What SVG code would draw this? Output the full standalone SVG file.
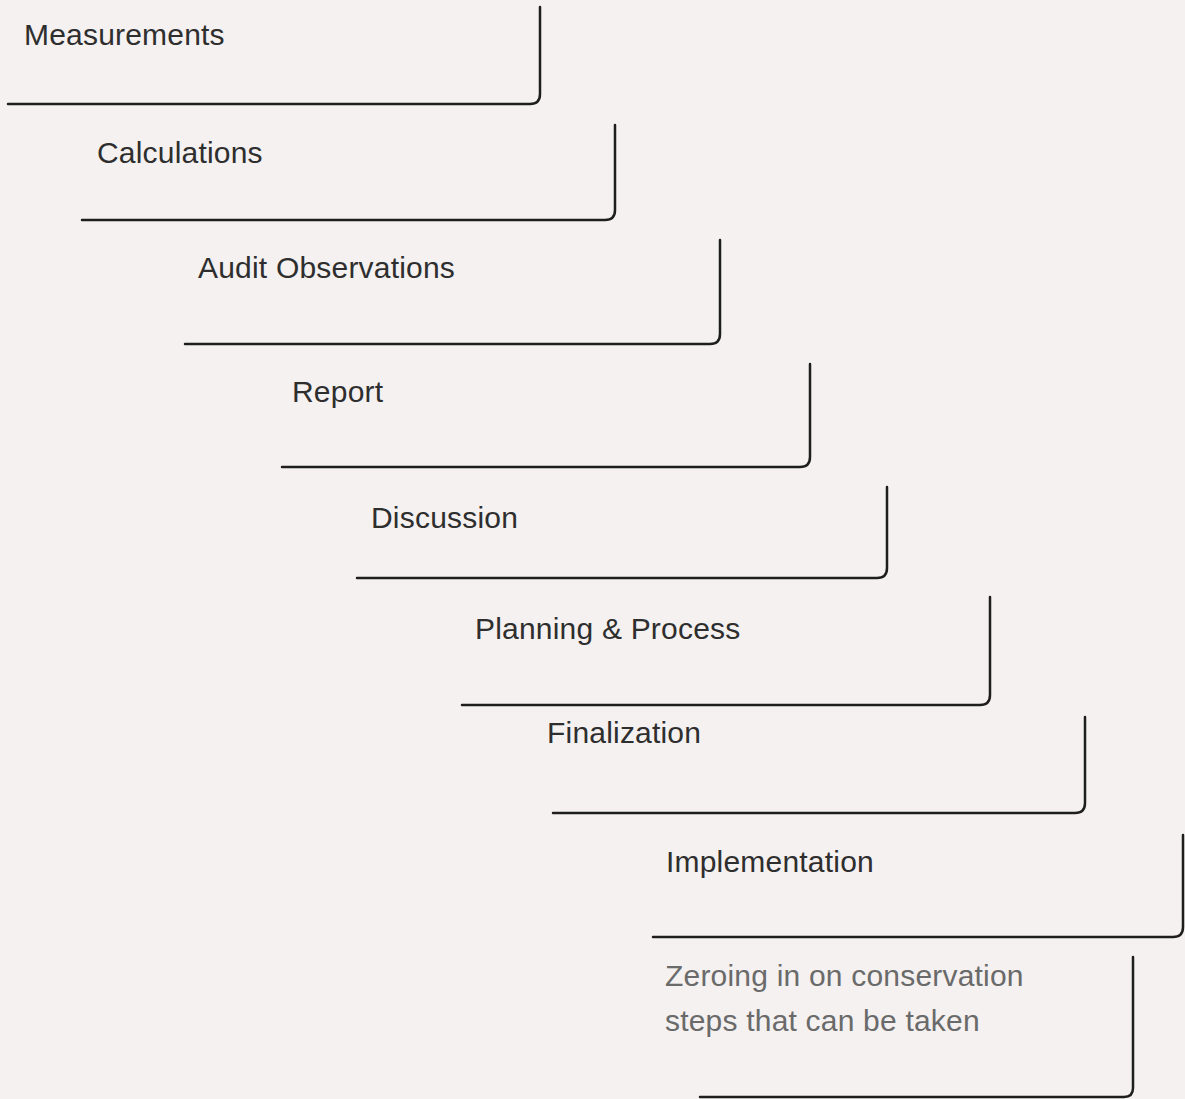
<svg xmlns="http://www.w3.org/2000/svg" width="1185" height="1099" viewBox="0 0 1185 1099">
<style>
.step{fill:none;stroke:#1e1e1e;stroke-width:2.5;stroke-linecap:round;stroke-linejoin:round}
.lbl{font-family:"Liberation Sans",Arial,sans-serif;font-size:30px;letter-spacing:0.2px;fill:#2e2e2e}
.lbl2{font-family:"Liberation Sans",Arial,sans-serif;font-size:30px;letter-spacing:0.2px;fill:#6a6a6a}
</style>
<rect width="1185" height="1099" fill="#f4f1f0"/>
<g id="connectors"></g>
<g id="n1"><path class="step" d="M540 7 V94 Q540 104 530 104 H8"/><text class="lbl" x="24" y="45">Measurements</text></g>
<g id="n2"><path class="step" d="M615 125 V210 Q615 220 605 220 H82"/><text class="lbl" x="97" y="163">Calculations</text></g>
<g id="n3"><path class="step" d="M720 240 V334 Q720 344 710 344 H185"/><text class="lbl" x="198" y="278">Audit Observations</text></g>
<g id="n4"><path class="step" d="M810 364 V457 Q810 467 800 467 H282"/><text class="lbl" x="292" y="402">Report</text></g>
<g id="n5"><path class="step" d="M887 487 V568 Q887 578 877 578 H357"/><text class="lbl" x="371" y="528">Discussion</text></g>
<g id="n6"><path class="step" d="M990 597 V695 Q990 705 980 705 H462"/><text class="lbl" x="475" y="639">Planning &amp; Process</text></g>
<g id="n7"><path class="step" d="M1085 717 V803 Q1085 813 1075 813 H553"/><text class="lbl" x="547" y="743">Finalization</text></g>
<g id="n8"><path class="step" d="M1183 835 V927 Q1183 937 1173 937 H653"/><text class="lbl" x="666" y="872">Implementation</text></g>
<g id="n9"><path class="step" d="M1133 957 V1088 Q1133 1097 1124 1097 H700"/><text class="lbl2" x="665" y="986">Zeroing in on conservation</text><text class="lbl2" x="665" y="1031">steps that can be taken</text></g>
</svg>
